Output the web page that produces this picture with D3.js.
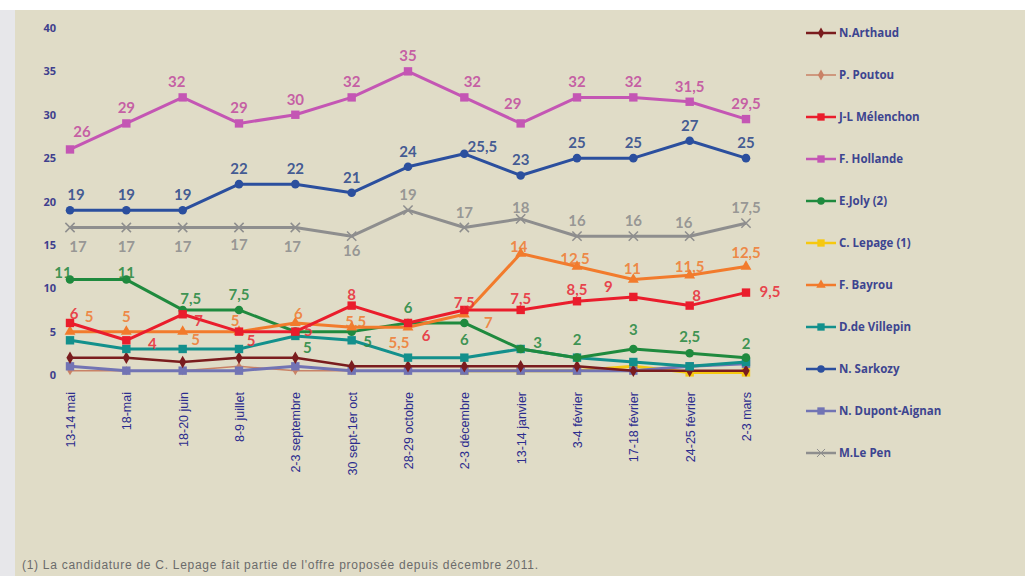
<!DOCTYPE html>
<html>
<head>
<meta charset="utf-8">
<script src="https://cdn.jsdelivr.net/npm/d3@7"></script>
<style>
  body { margin: 0; background: #ffffff; }
  svg { display: block; }
</style>
</head>
<body>
<div id="chart"></div>
<script>
// Data
var dates = ["13-14 mai", "18-mai", "18-20 juin", "8-9 juillet", "2-3 septembre", "30 sept-1er oct",
  "28-29 octobre", "2-3 décembre", "13-14 janvier", "3-4 février", "17-18 février", "24-25 février", "2-3 mars"];

var arthaud   = [2, 2, 1.5, 2, 2, 1, 1, 1, 1, 1, 0.5, 0.5, 0.5];
var poutou    = [0.5, 0.5, 0.5, 1, 0.5, 0.5, 0.5, 0.5, 0.5, 0.5, 0.5, 0.5, 0.5];
var melenchon = [6, 4, 7, 5, 5, 8, 6, 7.5, 7.5, 8.5, 9, 8, 9.5];
var hollande  = [26, 29, 32, 29, 30, 32, 35, 32, 29, 32, 32, 31.5, 29.5];
var joly      = [11, 11, 7.5, 7.5, 5, 5, 6, 6, 3, 2, 3, 2.5, 2];
var lepage    = [null, null, null, null, null, null, null, 0.5, 0.5, 0.5, 1, 0.3, 0.3];
var bayrou    = [5, 5, 5, 5, 6, 5.5, 5.5, 7, 14, 12.5, 11, 11.5, 12.5];
var villepin  = [4, 3, 3, 3, 4.5, 4, 2, 2, 3, 2, 1.5, 1, 1.5];
var sarkozy   = [19, 19, 19, 22, 22, 21, 24, 25.5, 23, 25, 25, 27, 25];
var dupont    = [1, 0.5, 0.5, 0.5, 1, 0.5, 0.5, 0.5, 0.5, 0.5, 0.5, 1, 1.3];
var lepen     = [17, 17, 17, 17, 17, 16, 19, 17, 18, 16, 16, 16, 17.5];

var yTicks = [0, 5, 10, 15, 20, 25, 30, 35, 40];
var footnote = "(1) La candidature de C. Lepage fait partie de l'offre proposée depuis décembre 2011.";

// series styling (legend order)
var series = [
  {name: "N.Arthaud",       values: arthaud,   color: "#7a1c1e", marker: "diamond", width: 2.5},
  {name: "P. Poutou",       values: poutou,    color: "#c98266", marker: "diamond", width: 1.5},
  {name: "J-L Mélenchon",   values: melenchon, color: "#ea1d2c", marker: "square",  width: 3, label: "#e8303c"},
  {name: "F. Hollande",     values: hollande,  color: "#c456b4", marker: "square",  width: 3, label: "#c24f9f"},
  {name: "E.Joly (2)",      values: joly,      color: "#1f8a3e", marker: "circle",  width: 3, label: "#2a8a44"},
  {name: "C. Lepage (1)",   values: lepage,    color: "#f6c810", marker: "square",  width: 3},
  {name: "F. Bayrou",       values: bayrou,    color: "#f27b2c", marker: "triangle", width: 3, label: "#ef7e36"},
  {name: "D.de Villepin",   values: villepin,  color: "#13908c", marker: "square",  width: 3},
  {name: "N. Sarkozy",      values: sarkozy,   color: "#2b4f9e", marker: "circle",  width: 3, label: "#2f4a8c"},
  {name: "N. Dupont-Aignan", values: dupont,   color: "#7274b4", marker: "square",  width: 3},
  {name: "M.Le Pen",        values: lepen,     color: "#8e8e8e", marker: "cross",   width: 3, label: "#8e8e8e"}
];

// label offsets [dx, dy] relative to the point; default then exceptions by index
var labelPos = {
  "F. Hollande":   {d: [0, -16], ex: {0: [12, -18], 2: [-6, -16], 7: [8, -16], 8: [-8, -20]}},
  "N. Sarkozy":    {d: [0, -16], ex: {0: [6, -16], 7: [18, -8]}},
  "M.Le Pen":      {d: [0, -16], ex: {0: [8, 18], 1: [0, 18], 2: [0, 18], 3: [0, 16], 4: [-3, 18], 5: [0, 14], 8: [0, -12], 11: [-6, -14]}},
  "E.Joly (2)":    {d: [0, -16], ex: {0: [-7, -8], 1: [0, -8], 2: [8, -12], 4: [12, 15], 5: [16, 9], 7: [0, 16], 8: [17, -7], 9: [0, -19], 10: [0, -20], 11: [0, -17], 12: [0, -15]}},
  "J-L Mélenchon": {d: [0, -12], ex: {0: [4, -10], 1: [26, 3], 2: [16, 6], 3: [12, 8], 4: [13, -2], 6: [18, 12], 7: [0, -8], 10: [-25, -11], 11: [7, -11], 12: [24, -2]}},
  "F. Bayrou":     {d: [0, -12], ex: {0: [19, -16], 1: [0, -16], 2: [13, 7], 3: [-4, -12], 4: [3, -10], 5: [4, -6], 6: [-9, 15], 7: [24, 8], 8: [-2, -8], 9: [-2, -9], 10: [-1, -12], 11: [0, -9], 12: [0, -15]}}
};

var svgWidth = 1025;
var svgHeight = 576;

var svg = d3.select("#chart")
  .append("svg")
  .attr("width", svgWidth)
  .attr("height", svgHeight);

// background
svg.append("rect").attr("width", svgWidth).attr("height", svgHeight).attr("fill", "#ffffff");
svg.append("rect").attr("x", 0).attr("y", 10).attr("width", 15).attr("height", svgHeight - 10).attr("fill", "#e7e7ea");
svg.append("rect").attr("x", 15).attr("y", 10).attr("width", svgWidth - 15).attr("height", svgHeight - 10).attr("fill", "#e0dcc7");

// scales
var x = d3.scalePoint().domain(dates).range([70, 746]);
var y = d3.scaleLinear().domain([0, 40]).range([375, 28]);

// y axis
var yAxis = svg.append("g")
  .attr("transform", "translate(56,0)")
  .call(d3.axisLeft(y).tickValues(yTicks).tickSize(0).tickPadding(0));
yAxis.select(".domain").remove();
yAxis.selectAll("text")
  .attr("font-family", "'Open Sans', sans-serif")
  .attr("font-size", "11px")
  .attr("font-weight", "bold")
  .attr("fill", "#3f3f8e");

// x axis (rotated labels)
var xAxis = svg.append("g")
  .attr("transform", "translate(0,392)")
  .call(d3.axisBottom(x).tickSize(0).tickPadding(0));
xAxis.select(".domain").remove();
xAxis.selectAll("text")
  .attr("font-family", "'Liberation Sans', Arial, sans-serif")
  .attr("font-size", "12.5px")
  .attr("fill", "#2c2c8e")
  .attr("text-anchor", "end")
  .attr("transform", "rotate(-90)")
  .attr("x", 0)
  .attr("y", 0)
  .attr("dy", "0.35em");

var line = d3.line()
  .defined(function(d) { return d != null; })
  .x(function(d, i) { return x(dates[i]); })
  .y(function(d) { return y(d); });

function markerPath(type, s) {
  if (type === "square") return d3.symbol(d3.symbolSquare, s * s * 1.1)();
  if (type === "circle") return d3.symbol(d3.symbolCircle, s * s * 0.9)();
  if (type === "triangle") return d3.symbol(d3.symbolTriangle, s * s * 0.8)();
  if (type === "cross") return d3.symbol(d3.symbolX, s * s * 0.9)();
  return d3.symbol(d3.symbolDiamond, s * s * 0.7)();
}

// draw bottom-most first so the big lines sit on top
var drawOrder = [1, 5, 9, 0, 7, 4, 6, 2, 10, 8, 3];

drawOrder.forEach(function(k) {
  var s = series[k];
  var g = svg.append("g");
  g.append("path")
    .datum(s.values)
    .attr("fill", "none")
    .attr("stroke", s.color)
    .attr("stroke-width", s.width)
    .attr("stroke-linejoin", "round")
    .attr("d", line);

  g.selectAll("path.mk")
    .data(s.values.map(function(v, i) { return {v: v, i: i}; }).filter(function(d) { return d.v != null; }))
    .enter()
    .append("path")
    .attr("class", "mk")
    .attr("transform", function(d) { return "translate(" + x(dates[d.i]) + "," + y(d.v) + ")"; })
    .attr("d", markerPath(s.marker, s.width === 1.5 ? 6 : 8))
    .attr("fill", s.color)
    .attr("stroke", s.marker === "cross" ? s.color : "none")
    .attr("stroke-width", 1.5);
});

// data labels
series.forEach(function(s) {
  if (!s.label) return;
  var pos = labelPos[s.name];
  svg.append("g").selectAll("text")
    .data(s.values)
    .enter()
    .append("text")
    .attr("x", function(d, i) { var o = pos.ex[i] || pos.d; return x(dates[i]) + o[0]; })
    .attr("y", function(d, i) { var o = pos.ex[i] || pos.d; return y(d) + o[1]; })
    .attr("text-anchor", "middle")
    .attr("dominant-baseline", "central")
    .attr("font-family", "Lato, 'Open Sans', sans-serif")
    .attr("font-size", "15px")
    .attr("font-weight", "bold")
    .attr("fill", s.label)
    .attr("fill-opacity", 0.9)
    .text(function(d) { return String(d).replace(".", ","); });
});

// legend
var legend = svg.append("g").attr("transform", "translate(806,33)");
var rows = legend.selectAll("g")
  .data(series)
  .enter()
  .append("g")
  .attr("transform", function(d, i) { return "translate(0," + (i * 42) + ")"; });

rows.append("line")
  .attr("x1", 0).attr("x2", 30)
  .attr("stroke", function(d) { return d.color; })
  .attr("stroke-width", function(d) { return d.width === 1.5 ? 1.5 : 2.5; });

rows.append("path")
  .attr("transform", "translate(15,0)")
  .attr("d", function(d) { return markerPath(d.marker, 7); })
  .attr("fill", function(d) { return d.color; })
  .attr("stroke", function(d) { return d.marker === "cross" ? d.color : "none"; });

rows.append("text")
  .attr("x", 33)
  .attr("dy", "0.35em")
  .attr("font-family", "'Open Sans', sans-serif")
  .attr("font-size", "11.5px")
  .attr("font-weight", "bold")
  .attr("fill", "#3d4590")
  .text(function(d) { return d.name; });

// footnote
svg.append("text")
  .attr("x", 22)
  .attr("y", 569)
  .attr("font-family", "'Liberation Sans', Arial, sans-serif")
  .attr("font-size", "12px")
  .attr("fill", "#6b6b6b")
  .attr("textLength", 516)
  .text(footnote);
</script>
</body>
</html>
